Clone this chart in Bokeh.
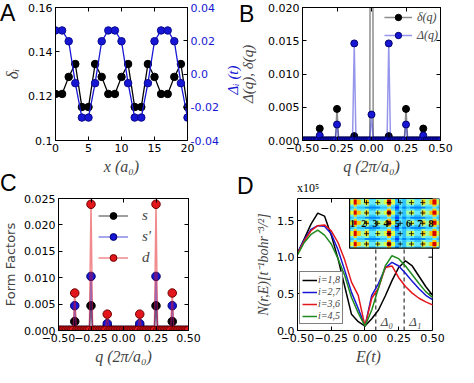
import numpy as np
from bokeh.plotting import figure
from bokeh.models import (Range1d, LinearAxis, FixedTicker, NumeralTickFormatter,
                          CustomJSTickFormatter, Label, Legend, LegendItem,
                          LinearColorMapper, AllLabels, Div)
from bokeh.layouts import row, column
from bokeh.embed import file_html
from bokeh.resources import INLINE
from bokeh.core.properties import value

# ---------------- Panel A data ----------------
site_x = list(range(21))
delta_i = [0.121, 0.121, 0.1287, 0.1345, 0.1151, 0.1151, 0.1345, 0.1287,
           0.121, 0.121, 0.1287, 0.1345, 0.1151, 0.1151, 0.1345, 0.1287,
           0.121, 0.121, 0.1287, 0.1345, 0.1151]
gap_i = [0.0262, 0.0262, 0.0197, -0.0055, -0.0262, -0.0262, -0.0055, 0.0197,
         0.0262, 0.0262, 0.0197, -0.0055, -0.0262, -0.0262, -0.0055, 0.0197,
         0.0262, 0.0262, 0.0197, -0.0055, -0.0262]
A_xticks = [0, 5, 10, 15, 20]
A_yticks = [0.10, 0.12, 0.14, 0.16]
A_y2ticks = [-0.04, -0.02, 0.0, 0.02, 0.04]

# ---------------- Panels B & C data ----------------
q_grid = [round(k * 0.0125, 4) for k in range(-40, 41)]
peak_q = [-0.375, -0.25, -0.125, 0.0, 0.125, 0.25, 0.375]
delta_q_peaks = [0.0018, 0.00475, 0.00066, 0.125, 0.00066, 0.00475, 0.0018]
gap_q_peaks = [0.00076, 0.0024, 0.0146, 0.0039, 0.0146, 0.0024, 0.00076]
s_peaks = [0.0017, 0.0047, 0.0008, 0.0, 0.0008, 0.0047, 0.0017]
sp_peaks = [0.0047, 0.01025, 0.0013, 0.0, 0.0013, 0.01025, 0.0047]
d_peaks = [0.0071, 0.0239, 0.0031, 0.0, 0.0031, 0.0239, 0.0071]
q_ticks = [-0.5, -0.25, 0.0, 0.25, 0.5]
B_yticks = [0.0, 0.005, 0.01, 0.015, 0.02]
C_yticks = [0.0, 0.005, 0.01, 0.015, 0.02, 0.025]


def on_grid(peaks):
    vals = [0.0] * len(q_grid)
    for qp, v in zip(peak_q, peaks):
        vals[q_grid.index(qp)] = v
    return vals


# ---------------- Panel D data (units of 1e5) ----------------
energy = [-0.5, -0.45, -0.4, -0.35, -0.3, -0.25, -0.2, -0.15, -0.1, -0.05, 0.0,
          0.05, 0.1, 0.15, 0.2, 0.25, 0.3, 0.35, 0.4, 0.45, 0.5]
ldos_18 = [1.05, 1.25, 1.45, 1.60, 1.56, 1.30, 0.98, 0.60, 0.22, 0.12, 0.06,
           0.16, 0.28, 0.47, 0.68, 0.86, 0.95, 0.88, 0.74, 0.60, 0.48]
ldos_27 = [1.06, 1.24, 1.38, 1.43, 1.42, 1.32, 1.10, 0.82, 0.52, 0.30, 0.06,
           0.48, 0.64, 0.85, 0.93, 0.88, 0.78, 0.67, 0.57, 0.48, 0.42]
ldos_36 = [1.05, 1.22, 1.36, 1.43, 1.44, 1.36, 1.20, 0.96, 0.66, 0.48, 0.06,
           0.44, 0.58, 0.86, 0.88, 0.72, 0.60, 0.51, 0.44, 0.39, 0.35]
ldos_45 = [1.03, 1.20, 1.31, 1.37, 1.30, 1.18, 0.98, 0.75, 0.45, 0.24, 0.06,
           0.28, 0.58, 0.88, 1.02, 0.98, 0.88, 0.76, 0.64, 0.53, 0.45]
D_yticks = [0.0, 0.5, 1.0, 1.5]
gap_edges = [0.08, 0.29]          # Delta_0, Delta_1
gap_names = ["Δ₀", "Δ₁"]
inset_rows = [
    "474453344474243443354474",
    "697574465696343564475796",
    "697574465696343564475796",
    "474453344474243443354474",
    "343322223343132322223343",
    "474453344474243443354474",
    "697574465696343564475796",
    "697574465696343564475796",
    "474453344474243443354474",
    "343322223343132322223343",
    "474453344474243443354474",
    "697574465696343564475796",
    "697574465696343564475796",
    "474453344474243443354474",
    "343322223343132322223343",
    "474453344474243443354474",
    "697574465696343564475796",
    "697574465696343564475796",
    "474453344474243443354474",
    "343322223343132322223343",
    "474453344474243443354474",
    "697574465696343564475796",
    "697574465696343564475796",
    "474453344474243443354474",
]
inset_sites = [1, 2, 3, 4, 5, 6, 7, 8]
site_labels = ["1", "2", "3", "4", "5", "6", "7", "8"]
cross_sites = [2, 3, 4, 5, 6, 7]
atom_row_idx = [1, 6, 11, 16, 21]   # first of the two rows through each atom row

BLUE = "#1616d4"
RED = "#e3161c"
GREEN = "#1f8a1f"
SERIF = "Liberation Serif"
SANS = "DejaVu Sans"
LETTER_FONT = "Liberation Sans"
jet10 = ["#0000b0", "#0040ff", "#0088ff", "#30c4ff", "#64e8ff",
         "#a4ffa0", "#e0ff40", "#ffc800", "#ff6000", "#d80000"]


def base_fig(**kw):
    p = figure(output_backend="svg", toolbar_location=None, **kw)
    p.xgrid.visible = False
    p.ygrid.visible = False
    p.outline_line_color = "black"
    p.outline_line_width = 1
    p.background_fill_color = "white"
    p.border_fill_color = "white"
    return p


def style_axis(ax, label_font=SERIF, label_size="16px", italic=True):
    ax.major_tick_in = 4
    ax.major_tick_out = 0
    ax.minor_tick_in = 0
    ax.minor_tick_out = 0
    ax.major_label_text_font = SANS
    ax.major_label_text_font_size = "11px"
    ax.major_label_text_color = "black"
    ax.axis_line_color = "black"
    ax.major_tick_line_color = "black"
    ax.major_label_standoff = 3
    ax.axis_label_text_font = label_font
    ax.axis_label_text_font_style = "italic" if italic else "normal"
    ax.axis_label_text_font_size = label_size
    ax.axis_label_standoff = 3
    ax.major_label_policy = AllLabels()


def tick_only(p, side, ticks, **kw):
    ax = LinearAxis(ticker=FixedTicker(ticks=ticks),
                    formatter=CustomJSTickFormatter(code="return ''"), **kw)
    style_axis(ax)
    ax.major_label_standoff = 0
    ax.major_label_text_font_size = "1px"
    p.add_layout(ax, side)
    return ax


def overlay(text, left, top, size, family, color="black", style="normal", extra=None):
    st = {"position": "absolute", "left": f"{left}px", "top": f"{top}px",
          "font-family": family, "font-size": f"{size}px", "line-height": "normal",
          "color": color, "font-style": style, "white-space": "nowrap",
          "overflow": "visible", "z-index": "10"}
    if extra:
        st.update(extra)
    try:
        return Div(text=text, styles=st, margin=0)
    except Exception:
        return Div(text=text, styles=st)


q_fmt = CustomJSTickFormatter(code="return tick.toFixed(2).replace('-', '\\u2212')")

# ================= Panel A =================
A = base_fig(width=236, height=177, x_range=Range1d(0, 20), y_range=Range1d(0.1, 0.16),
             min_border_left=51, min_border_right=49, min_border_top=7, min_border_bottom=33)
A.extra_y_ranges = {"gap": Range1d(-0.04, 0.04)}
A.line(site_x, delta_i, line_color="black", line_width=1.3)
A.scatter(site_x, delta_i, size=7.5, fill_color="black", line_color="black")
A.line(site_x, gap_i, y_range_name="gap", line_color=BLUE, line_width=1.3)
A.scatter(site_x, gap_i, y_range_name="gap", size=7.5, fill_color=BLUE, line_color="#0a0a90")
ax = A.xaxis[0]
style_axis(ax)
ax.ticker = FixedTicker(ticks=A_xticks)
ax.axis_label = "x (a₀)"
ax = A.yaxis[0]
style_axis(ax, label_size="17px")
ax.ticker = FixedTicker(ticks=A_yticks)
ax.formatter = NumeralTickFormatter(format="0.0[0]")
ax.axis_label = "δᵢ"
axr = LinearAxis(y_range_name="gap", ticker=FixedTicker(ticks=A_y2ticks),
                 formatter=NumeralTickFormatter(format="0.0[0]"))
style_axis(axr)
axr.major_label_text_color = BLUE
A.add_layout(axr, "right")
tick_only(A, "above", A_xticks)

# ================= Panel B =================
delta_q = on_grid(delta_q_peaks)
gap_q = on_grid(gap_q_peaks)
B = base_fig(width=222, height=177, x_range=Range1d(-0.5, 0.5), y_range=Range1d(0, 0.02),
             min_border_left=66, min_border_right=18, min_border_top=7, min_border_bottom=33)
lb = B.line(q_grid, delta_q, line_color="black", line_alpha=0.45, line_width=1.5)
sb = B.scatter(q_grid, delta_q, size=7, fill_color="black", line_color="black")
lg = B.line(q_grid, gap_q, line_color=BLUE, line_alpha=0.45, line_width=1.5)
sg = B.scatter(q_grid, gap_q, size=7, fill_color=BLUE, line_color="#000070")
ax = B.xaxis[0]
style_axis(ax)
ax.ticker = FixedTicker(ticks=q_ticks)
ax.formatter = q_fmt
ax.axis_label = "q (2π/a₀)"
ax = B.yaxis[0]
style_axis(ax, label_size="15px")
ax.ticker = FixedTicker(ticks=B_yticks)
ax.formatter = NumeralTickFormatter(format="0.000")
ax.axis_label = "Δ(q), δ(q)"
ax.axis_label_standoff = 9
tick_only(B, "right", B_yticks)
tick_only(B, "above", q_ticks)
legB = Legend(items=[LegendItem(label="δ(q)", renderers=[lb, sb]),
                     LegendItem(label="Δ(q)", renderers=[lg, sg])],
              location="top_right")
legB.border_line_color = None
legB.background_fill_alpha = 0
legB.label_text_font = SERIF
legB.label_text_font_style = "italic"
legB.label_text_font_size = "12px"
legB.glyph_width = 28
legB.glyph_height = 16
legB.label_height = 16
legB.spacing = 2
legB.padding = 2
legB.margin = 2
B.add_layout(legB)

# ================= Panel C =================
s_q = on_grid(s_peaks)
sp_q = on_grid(sp_peaks)
d_q = on_grid(d_peaks)
C = base_fig(width=236, height=190, x_range=Range1d(-0.5, 0.5), y_range=Range1d(0, 0.025),
             min_border_left=51, min_border_right=48, min_border_top=21, min_border_bottom=36)
items = []
for vals, col, edge, name in [(s_q, "black", "black", "s"), (sp_q, BLUE, "#000070", "s'"),
                              (d_q, RED, "#700000", "d")]:
    ln = C.line(q_grid, vals, line_color=col, line_alpha=0.5, line_width=1.5)
    sc = C.scatter(q_grid, vals, size=8.5, fill_color=col, line_color=edge)
    items.append(LegendItem(label=name, renderers=[ln, sc]))
ax = C.xaxis[0]
style_axis(ax)
ax.ticker = FixedTicker(ticks=q_ticks)
ax.formatter = q_fmt
ax.axis_label = "q (2π/a₀)"
ax = C.yaxis[0]
style_axis(ax, label_font=SANS, label_size="13px", italic=False)
ax.ticker = FixedTicker(ticks=C_yticks)
ax.formatter = NumeralTickFormatter(format="0.000")
ax.axis_label = "Form Factors"
tick_only(C, "right", C_yticks)
tick_only(C, "above", q_ticks)
legC = Legend(items=items, location=(40, 64))
legC.border_line_color = None
legC.background_fill_alpha = 0
legC.label_text_font = SERIF
legC.label_text_font_style = "italic"
legC.label_text_font_size = "15px"
legC.glyph_width = 30
legC.glyph_height = 17
legC.label_height = 17
legC.spacing = 4
legC.padding = 0
legC.label_standoff = 14
C.add_layout(legC)

# ================= Panel D =================
X_END = 0.552
INSET_X0, INSET_W = -0.114, X_END + 0.114
INSET_Y0, INSET_H = 1.123, 1.8 - 1.123
D = base_fig(width=222, height=190, x_range=Range1d(-0.5, X_END), y_range=Range1d(0, 1.8),
             min_border_left=61, min_border_right=19, min_border_top=17, min_border_bottom=37)
D.outline_line_color = None
D.segment(x0=[0.5], y0=[0.0], x1=[0.5], y1=[1.8], line_color="black", line_width=1)
D.segment(x0=[0.5, 0.5], y0=D_yticks[1:3], x1=[0.47, 0.47], y1=D_yticks[1:3],
          line_color="black", line_width=1)
D.segment(x0=gap_edges, y0=[0, 0], x1=gap_edges, y1=[1.8, 1.8], line_color="#333333",
          line_width=1.2, line_dash="4 3")
legD_items = []
for vals, col, name in [(ldos_18, "black", "i=1,8"), (ldos_27, BLUE, "i=2,7"),
                        (ldos_36, RED, "i=3,6"), (ldos_45, GREEN, "i=4,5")]:
    r = D.line(energy, vals, line_color=col, line_width=1.5)
    legD_items.append(LegendItem(label=name, renderers=[r]))
mapper = LinearColorMapper(palette=jet10, low=0, high=9)
img = np.array([[float(ch) for ch in r] for r in inset_rows[::-1]])
D.image(image=[img], x=INSET_X0, y=INSET_Y0, dw=INSET_W, dh=INSET_H, color_mapper=mapper)
n_sub = len(inset_rows)
cx = [INSET_X0 + (s - 0.5) / 8 * INSET_W for s in cross_sites for _ in atom_row_idx]
cy = [INSET_Y0 + INSET_H * (1 - (i + 1) / n_sub) for _ in cross_sites for i in atom_row_idx]
D.scatter(cx, cy, marker="cross", size=5, line_color="black", line_width=0.8)
lx = [INSET_X0 + (s - 0.75) / 8 * INSET_W for s in inset_sites]
ly = [INSET_Y0 + INSET_H * (1 - (atom_row_idx[2] + 1) / n_sub)] * len(inset_sites)
D.text(lx, ly, text=site_labels, text_font=value(SERIF), text_font_size="10px",
       text_font_style="bold", text_align="center", text_baseline="middle", text_color="black")
D.quad(left=[INSET_X0], right=[X_END], bottom=[INSET_Y0], top=[1.8], fill_color=None,
       line_color="black", line_width=1.2)
ax = D.xaxis[0]
style_axis(ax)
ax.bounds = (-0.5, 0.5)
ax.ticker = FixedTicker(ticks=q_ticks)
ax.formatter = q_fmt
ax.axis_label = "E(t)"
ax = D.yaxis[0]
style_axis(ax, label_size="14px")
ax.ticker = FixedTicker(ticks=D_yticks)
ax.formatter = CustomJSTickFormatter(code="return tick.toFixed(1)")
ax.axis_label = "N(r,E)[t⁻¹bohr⁻³/²]"
tick_only(D, "above", [-0.25, 0.0, 0.25], bounds=(-0.5, 0.5))
legD = Legend(items=legD_items, location=(2, 6))
legD.border_line_color = "black"
legD.border_line_width = 1
legD.background_fill_color = "white"
legD.label_text_font = SERIF
legD.label_text_font_style = "italic"
legD.label_text_font_size = "10px"
legD.glyph_width = 15
legD.glyph_height = 10
legD.label_height = 10
legD.spacing = 1
legD.padding = 2
legD.label_standoff = 1
D.add_layout(legD)
for xe, nm in zip(gap_edges, gap_names):
    D.add_layout(Label(x=xe, y=0.02, x_offset=5, text=nm, text_font=SERIF,
                       text_font_style="italic", text_font_size="13px", text_baseline="bottom"))

# ================= texts outside the plot frames =================
overlays = [
    overlay("A", 0, 0, 23, LETTER_FONT),
    overlay("B", 239, 1, 23, LETTER_FONT),
    overlay("C", 0, 170, 23, LETTER_FONT),
    overlay("D", 237, 173, 23, LETTER_FONT),
    overlay("x10⁵", 297, 181, 12, SERIF),
    overlay("Δᵢ (t)", 233, 80, 15, SERIF, color=BLUE, style="italic",
            extra={"transform": "translate(-50%, -50%) rotate(-90deg)"}),
]

layout = column(row(A, B), row(C, D), *overlays)
open("out.html", "w").write(file_html(layout, INLINE))
